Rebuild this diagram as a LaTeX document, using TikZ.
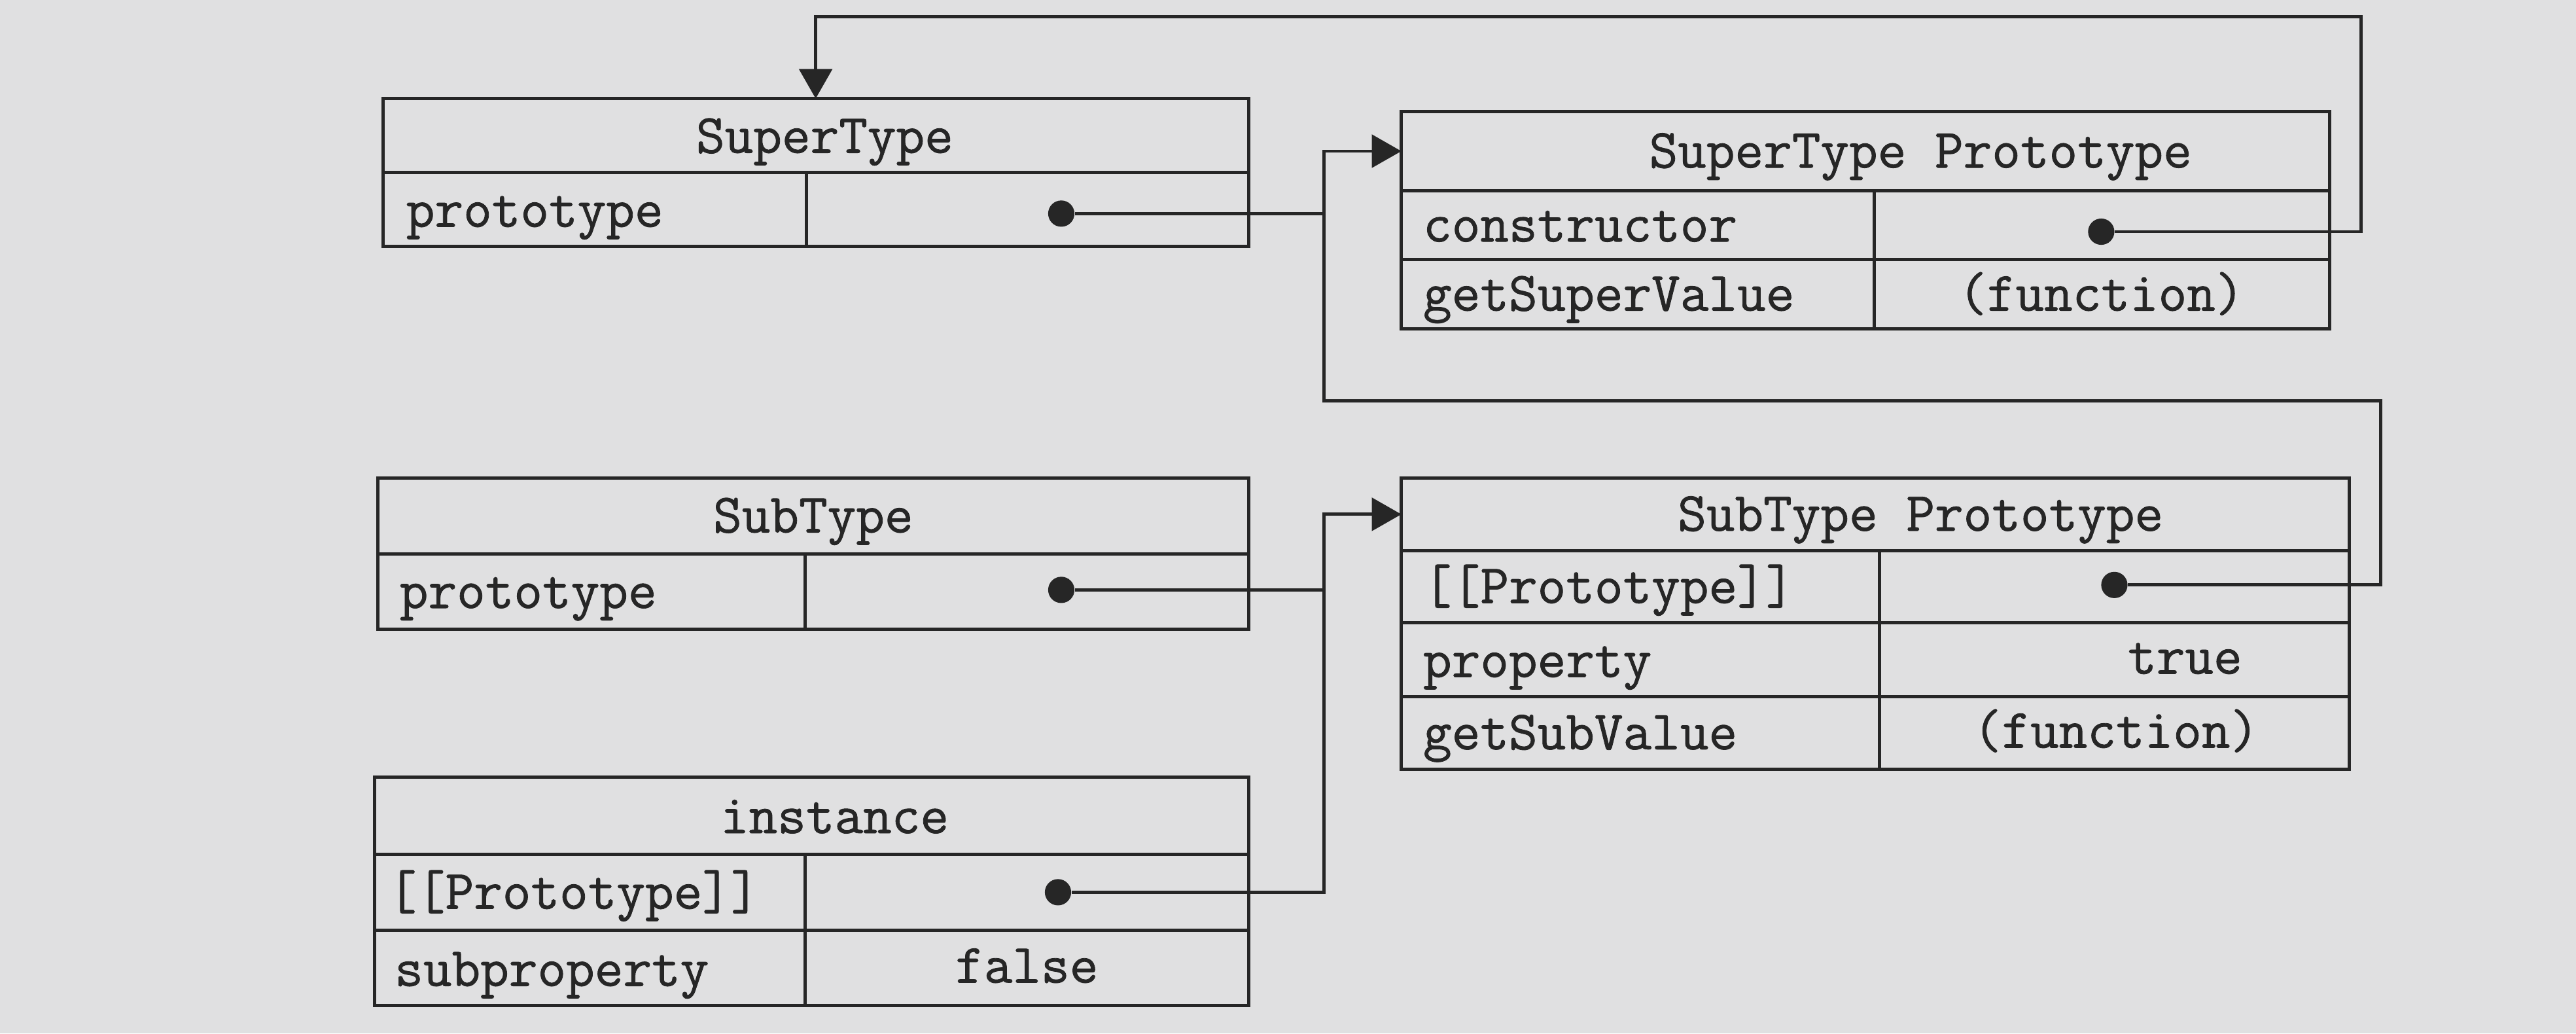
\documentclass[tikz,border=0pt]{standalone}
\usepackage{fontspec}
\usepackage{tikz}
\usetikzlibrary{arrows.meta}
\newfontfamily\mono[FakeBold=1.0]{Latin Modern Mono}
\definecolor{paper}{RGB}{224,224,225}
\definecolor{ink}{RGB}{38,38,38}
\tikzset{
	box/.style={draw=ink, line width=1.4pt, inner sep=0pt, outer sep=0pt, anchor=north west},
	cell/.style 2 args={box, minimum width=#1*0.025cm, minimum height=#2*0.025cm},
	txt/.style={font=\mono\fontsize{24}{28}\selectfont, text=ink, inner sep=0pt, anchor=mid},
	key/.style={txt, anchor=mid west},
	dot/.style={circle, fill=ink, inner sep=0pt, minimum size=0.4cm},
	wire/.style={draw=ink, line width=1.4pt},
	arr/.style={wire, -{Triangle[length=0.45cm, width=0.5cm]}}
}
\begin{document}
\begin{tikzpicture}[x=0.025cm, y=-0.025cm]
	\fill[paper] (0,0) rectangle (1568,629);
	\useasboundingbox (0,0) rectangle (1568,629);
	% SuperType
	\node[cell={527}{45}] (stH) at (233,60) {};
	\node[cell={258}{45}] (stK) at (stH.south west) {};
	\node[cell={269}{45}] (stV) at (stK.north east) {};
	\node[txt] (stT) at (502,90) {SuperType};
	\node[key] (stK1) at (247,135) {prototype};
	\node[dot] (stDot) at (646,130) {};
	% SuperType Prototype
	\node[cell={565}{48}] (spH) at (853,68) {};
	\node[cell={288}{42}] (spK1) at (spH.south west) {};
	\node[cell={277}{42}] (spV1) at (spK1.north east) {};
	\node[cell={288}{42}] (spK2) at (spK1.south west) {};
	\node[cell={277}{42}] (spV2) at (spK2.north east) {};
	\node[txt] (spT) at (1169,99) {SuperType Prototype};
	\node[key] (spL1) at (866,144) {constructor};
	\node[key] (spL2) at (866,186) {getSuperValue};
	\node[txt] (spF) at (1279,186) {(function)};
	\node[dot] (spDot) at (1279,141) {};
	% SubType
	\node[cell={530}{46}] (sbH) at (230,291) {};
	\node[cell={260}{46}] (sbK) at (sbH.south west) {};
	\node[cell={270}{46}] (sbV) at (sbK.north east) {};
	\node[txt] (sbT) at (495,321) {SubType};
	\node[key] (sbL1) at (243,367) {prototype};
	\node[dot] (sbDot) at (646,359) {};
	% SubType Prototype
	\node[cell={577}{44}] (bpH) at (853,291) {};
	\node[cell={291}{44}] (bpK1) at (bpH.south west) {};
	\node[cell={286}{44}] (bpV1) at (bpK1.north east) {};
	\node[cell={291}{45}] (bpK2) at (bpK1.south west) {};
	\node[cell={286}{45}] (bpV2) at (bpK2.north east) {};
	\node[cell={291}{44}] (bpK3) at (bpK2.south west) {};
	\node[cell={286}{44}] (bpV3) at (bpK3.north east) {};
	\node[txt] (bpT) at (1169,320) {SubType Prototype};
	\node[key] (bpL1) at (866,364) {[[Prototype]]};
	\node[key] (bpL2) at (866,409) {property};
	\node[txt] (bpTrue) at (1330,407) {true};
	\node[key] (bpL3) at (866,453) {getSubValue};
	\node[txt] (bpF) at (1288,452) {(function)};
	\node[dot] (bpDot) at (1287,356) {};
	% instance
	\node[cell={532}{47}] (inH) at (228,473) {};
	\node[cell={262}{46}] (inK1) at (inH.south west) {};
	\node[cell={270}{46}] (inV1) at (inK1.north east) {};
	\node[cell={262}{46}] (inK2) at (inK1.south west) {};
	\node[cell={270}{46}] (inV2) at (inK2.north east) {};
	\node[txt] (inT) at (508,504) {instance};
	\node[key] (inL1) at (236,550) {[[Prototype]]};
	\node[key] (inL2) at (240,597) {subproperty};
	\node[txt] (inFalse) at (625,595) {false};
	\node[dot] (inDot) at (644,543) {};
	% connectors
	\coordinate (busA) at (806,130);
	\coordinate (busB) at (806,359);
	\coordinate (loopA) at (1437,10);
	\coordinate (loopB) at (1449,244);
	\draw[arr] (stDot) -- (busA) |- (spH.west);
	\draw[arr] (spDot) -| (loopA) -| (stH.north);
	\draw[wire] (bpDot) -| (loopB) -| (busA);
	\draw[arr] (sbDot) -- (busB) |- (bpH.west);
	\draw[wire] (inDot) -| (busB);
\end{tikzpicture}
\end{document}
